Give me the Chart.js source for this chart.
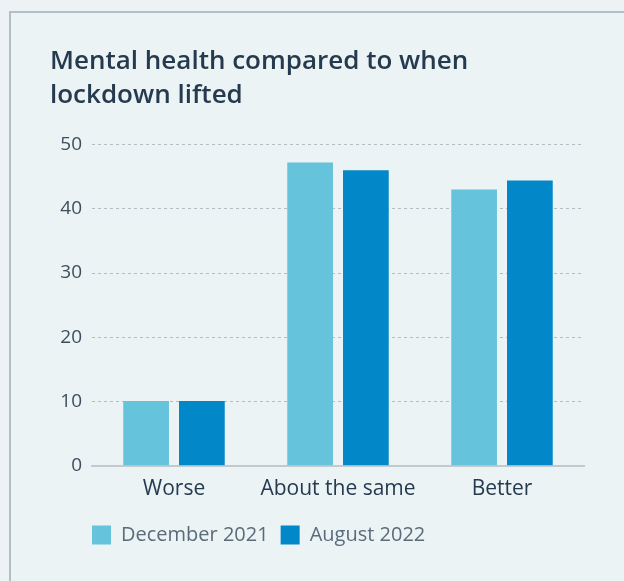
<!DOCTYPE html>
<html><head><meta charset="utf-8">
<script src="https://cdn.jsdelivr.net/npm/chart.js@4"></script>
<style>
html,body{margin:0;padding:0;background:#edf3f5;width:624px;height:581px;overflow:hidden;}
#card{position:absolute;left:9px;top:11px;width:640px;height:600px;border:2px solid #b3bfc7;background:#ebf3f5;}
#wrap{position:absolute;left:0;top:0;width:624px;height:581px;}
</style></head>
<body>
<div id="card"></div>
<div id="wrap"><canvas id="c" width="624" height="581"></canvas></div>
<script>
const categories = ["Worse", "About the same", "Better"];
const dec2021 = [10.1, 47.2, 43.0];
const aug2022 = [10.1, 46.0, 44.4];
const seriesNames = ["December 2021", "August 2022"];
const titleLines = ["Mental health compared to when", "lockdown lifted"];
const yTicks = [0, 10, 20, 30, 40, 50];

const FONT = "'Open Sans', sans-serif";
const shiftLegend = {
  id: 'shiftLegend',
  afterLayout(chart) { chart.legend.left += 30; chart.legend.right += 30; }
};
new Chart(document.getElementById('c'), {
  type: 'bar',
  plugins: [shiftLegend],
  data: {
    labels: categories,
    datasets: [
      {label: seriesNames[0], data: dec2021, backgroundColor: '#66c3dc', categoryPercentage: 0.68, barPercentage: 0.82},
      {label: seriesNames[1], data: aug2022, backgroundColor: '#0287c9', categoryPercentage: 0.68, barPercentage: 0.82}
    ]
  },
  options: {
    responsive: false,
    animation: false,
    layout: {padding: {top: 45, left: 50, right: 40, bottom: 26}},
    plugins: {
      title: {display: true, text: titleLines, align: 'start', color: '#263a4f',
        font: {family: FONT, size: 26, weight: 600, lineHeight: 1.3}, padding: {top: 0, bottom: 32}},
      legend: {position: 'bottom', align: 'start',
        labels: {boxWidth: 19, boxHeight: 19, color: '#5a6b7b', padding: 12,
          font: {family: FONT, size: 20}},
      },
      tooltip: {enabled: false}
    },
    scales: {
      x: {
        grid: {display: false, drawTicks: false},
        border: {display: true, color: '#c2c9cf', width: 2},
        ticks: {color: '#263a4f', font: {family: FONT, size: 21}, padding: 11}
      },
      y: {
        min: 0, max: 50,
        afterFit: (s) => { s.width = 42; },
        afterBuildTicks: (s) => { s.ticks = yTicks.map(v => ({value: v})); },
        grid: {color: '#b4bcc4', drawTicks: false, lineWidth: 1},
        border: {display: false, dash: [3, 3]},
        ticks: {color: '#3d4e5f', font: {family: FONT, size: 19}, padding: 10}
      }
    }
  }
});
</script>
</body></html>
